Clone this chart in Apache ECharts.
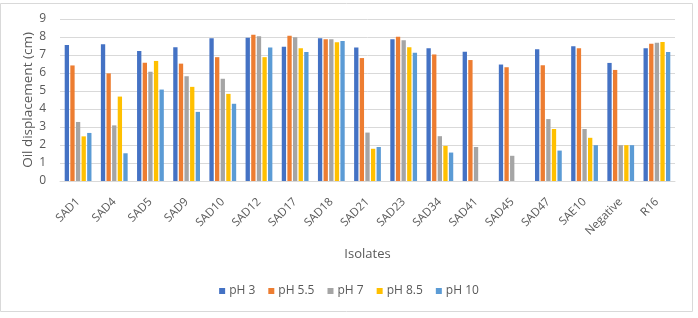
<!DOCTYPE html>
<html><head><meta charset="utf-8">
<script src="https://cdn.jsdelivr.net/npm/echarts@6/dist/echarts.min.js"></script>
<style>html,body{margin:0;padding:0;background:#fff}#c{width:698px;height:318px}</style>
</head><body><div id="c"></div>
<script>
var categories = ['SAD1','SAD4','SAD5','SAD9','SAD10','SAD12','SAD17','SAD18','SAD21','SAD23','SAD34','SAD41','SAD45','SAD47','SAE10','Negative','R16'];
var ph3   = [7.55,7.6,7.22,7.43,7.93,7.96,7.46,7.93,7.42,7.88,7.38,7.18,6.47,7.32,7.48,6.56,7.38];
var ph55  = [6.42,5.98,6.57,6.52,6.88,8.13,8.07,7.87,6.83,8.02,7.03,6.72,6.32,6.43,7.38,6.17,7.63];
var ph7   = [3.28,3.09,6.07,5.82,5.68,8.04,7.98,7.87,2.69,7.82,2.49,1.89,1.4,3.44,2.89,1.99,7.68];
var ph85  = [2.48,4.69,6.67,5.23,4.84,6.88,7.38,7.71,1.79,7.43,1.95,0,0,2.89,2.4,1.99,7.72];
var ph10  = [2.67,1.54,5.08,3.84,4.29,7.42,7.17,7.78,1.89,7.13,1.58,0,0,1.69,1.99,1.99,7.17];
var seriesNames = ['pH 3','pH 5.5','pH 7','pH 8.5','pH 10'];
var seriesData = [ph3, ph55, ph7, ph85, ph10];
var colors = ['#4472C4','#ED7D31','#A5A5A5','#FFC000','#5B9BD5'];
var yTicks = [0,1,2,3,4,5,6,7,8,9];

var chart = echarts.init(document.getElementById('c'));
var font = 'Open Sans';
chart.setOption({
  animation:false,
  color: colors,
  graphic:[{type:'rect',shape:{x:0.5,y:3.5,width:692,height:308},style:{fill:null,stroke:'#D9D9D9',lineWidth:1}}],
  grid:{left:60,right:23,top:19,bottom:137},
  legend:{data:seriesNames,bottom:16,left:'center',itemWidth:6,itemHeight:6,itemGap:13,icon:'rect',
    textStyle:{color:'#595959',fontFamily:font,fontSize:12,padding:[0,0,0,-1]}},
  xAxis:{type:'category',data:categories,
    name:'Isolates',nameLocation:'middle',nameGap:67,nameMoveOverlap:false,
    nameTextStyle:{color:'#595959',fontFamily:font,fontSize:13},
    axisLine:{lineStyle:{color:'#D9D9D9'}},axisTick:{show:false},
    axisLabel:{rotate:45,color:'#595959',fontFamily:font,fontSize:11.5,interval:0,margin:19}},
  yAxis:{type:'value',min:yTicks[0],max:yTicks[yTicks.length-1],interval:1,
    name:'Oil displacement (cm)',nameLocation:'middle',nameGap:25,nameMoveOverlap:false,
    nameTextStyle:{color:'#595959',fontFamily:font,fontSize:13.5},
    axisLine:{show:false},axisTick:{show:false},
    axisLabel:{color:'#595959',fontFamily:font,fontSize:12,margin:14},
    splitLine:{lineStyle:{color:'#D9D9D9'}}},
  series: seriesNames.map(function(n,i){return {name:n,type:'bar',data:seriesData[i],barGap:'30%',barCategoryGap:'26%'};})
});
</script></body></html>
